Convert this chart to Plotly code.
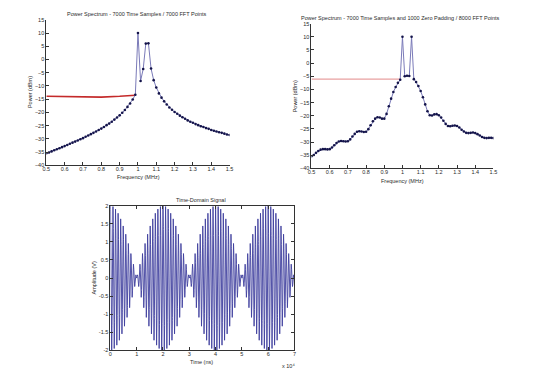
import numpy as np
import plotly.graph_objects as go

# ---- Spectrum 1: 7000-point FFT (bin spacing 1/70 MHz), 0.5-1.5 MHz ----
freq1_bins = list(range(35, 106))          # bin indices shown
freq1_step_mhz = 1 / 70
power1_dbm = [-35.4, -35.1, -34.7, -34.3, -33.9, -33.5, -33.1, -32.7, -32.3, -31.8,
              -31.4, -31.0, -30.6, -30.1, -29.7, -29.2, -28.7, -28.2, -27.7, -27.2,
              -26.6, -26.1, -25.5, -24.8, -24.2, -23.5, -22.7, -21.9, -21.1, -20.1,
              -19.1, -17.9, -16.6, -15.1, -13.3, 10.0, -8.1, -3.6, 6.0, 6.1,
              -3.4, -7.8, -10.6, -12.8, -14.4, -15.8, -17.0, -18.1, -19.0, -19.8,
              -20.5, -21.2, -21.8, -22.4, -23.0, -23.5, -23.9, -24.4, -24.8, -25.2,
              -25.5, -25.9, -26.2, -26.6, -26.9, -27.2, -27.5, -27.7, -28.0, -28.3, -28.5]
red1_freq = [0.5, 0.6, 0.7, 0.8, 0.9, 0.986]
red1_dbm = [-13.9, -14.0, -14.2, -14.2, -13.9, -13.5]

# ---- Spectrum 2: 8000-point FFT (bin spacing 0.0125 MHz), 0.5-1.5 MHz ----
freq2_bins = list(range(40, 121))
freq2_step_mhz = 0.0125
power2_dbm = [-35.4, -34.9, -34.1, -33.4, -32.9, -32.7, -32.7, -32.8, -32.7, -32.1,
              -31.2, -30.4, -29.8, -29.6, -29.7, -29.8, -29.7, -29.0, -27.9, -26.9,
              -26.1, -25.9, -26.0, -26.2, -26.1, -25.1, -23.6, -22.1, -21.1, -20.6,
              -20.7, -21.1, -21.1, -19.3, -16.4, -13.5, -11.0, -9.1, -7.5, -6.3,
              10.0, -5.0, -4.8, -4.9, 10.0, -6.1, -7.2, -8.7, -10.6, -13.0,
              -15.7, -18.3, -19.8, -19.9, -19.5, -19.4, -19.8, -20.7, -21.9, -23.1,
              -23.9, -24.0, -23.8, -23.7, -23.9, -24.5, -25.3, -26.0, -26.5, -26.6,
              -26.5, -26.4, -26.6, -27.0, -27.5, -28.1, -28.4, -28.5, -28.4, -28.4, -28.5]
red2_freq = [0.5, 0.9875]
red2_dbm = [-6.1, -6.1]

tone_freqs_mhz = [1.0, 1.05]
tone_amps_v = [1.0, 1.0]
n_samples = 7000
sample_period_ns = 10

# tick labels
freq_ticks = [0.5, 0.6, 0.7, 0.8, 0.9, 1.0, 1.1, 1.2, 1.3, 1.4, 1.5]
freq_ticklabels = ["0.5", "0.6", "0.7", "0.8", "0.9", "1", "1.1", "1.2", "1.3", "1.4", "1.5"]
power_ticks = [-40, -35, -30, -25, -20, -15, -10, -5, 0, 5, 10, 15]
time_ticks = [0, 10000, 20000, 30000, 40000, 50000, 60000, 70000]
time_ticklabels = ["0", "1", "2", "3", "4", "5", "6", "7"]
amp_ticks = [-2, -1.5, -1, -0.5, 0, 0.5, 1, 1.5, 2]
amp_ticklabels = ["-2", "-1.5", "-1", "-0.5", "0", "0.5", "1", "1.5", "2"]

f1 = np.array(freq1_bins) * freq1_step_mhz
f2 = np.array(freq2_bins) * freq2_step_mhz
t_ns = np.arange(n_samples) * sample_period_ns
sig = sum(a * np.cos(2 * np.pi * f * 1e-3 * t_ns) for f, a in zip(tone_freqs_mhz, tone_amps_v))

LINE = '#7a7ab8'
DOT = '#14144a'
FONT = 'Liberation Sans, Arial, sans-serif'
TXT = '#2a2a2a'
FS = 5.5

fig = go.Figure()
fig.add_trace(go.Scatter(x=red1_freq, y=red1_dbm, xaxis='x', yaxis='y', mode='lines',
                         line=dict(color='#c42a2a', width=1.6), hoverinfo='skip'))
fig.add_trace(go.Scatter(x=f1, y=power1_dbm, xaxis='x', yaxis='y', mode='lines+markers',
                         line=dict(color=LINE, width=1), marker=dict(color=DOT, size=2.6)))
fig.add_trace(go.Scatter(x=red2_freq, y=red2_dbm, xaxis='x2', yaxis='y2', mode='lines',
                         line=dict(color='#e8a0a0', width=1.2), hoverinfo='skip'))
fig.add_trace(go.Scatter(x=f2, y=power2_dbm, xaxis='x2', yaxis='y2', mode='lines+markers',
                         line=dict(color=LINE, width=1), marker=dict(color=DOT, size=2.6)))
fig.add_trace(go.Scatter(x=t_ns, y=sig, xaxis='x3', yaxis='y3', mode='lines',
                         line=dict(color='#40409e', width=0.9)))

ax_common = dict(showgrid=False, zeroline=False, showline=True, linecolor='#333333', linewidth=1,
                 ticks='inside', ticklen=3, tickcolor='#333333',
                 tickfont=dict(family=FONT, size=FS, color=TXT))
xa = dict(ticklabelstandoff=-2, **ax_common)
ya = dict(ticklabelstandoff=0, **ax_common)

fig.update_layout(
    width=540, height=379, margin=dict(l=0, r=0, t=0, b=0), showlegend=False,
    plot_bgcolor='white', paper_bgcolor='white',
    font=dict(family=FONT, size=FS, color=TXT),
    xaxis=dict(domain=[0.0796, 0.424], range=[0.5, 1.5], anchor='y',
               tickvals=freq_ticks, ticktext=freq_ticklabels, **xa),
    yaxis=dict(domain=[0.5646, 0.955], range=[-40, 15], anchor='x',
               tickvals=power_ticks, **ya),
    xaxis2=dict(domain=[0.578, 0.92], range=[0.5, 1.5], anchor='y2',
                tickvals=freq_ticks, ticktext=freq_ticklabels, **xa),
    yaxis2=dict(domain=[0.5567, 0.9446], range=[-40, 15], anchor='x2',
                tickvals=power_ticks, **ya),
    xaxis3=dict(domain=[0.2, 0.546], range=[0, 70000], anchor='y3', mirror='ticks',
                tickvals=time_ticks, ticktext=time_ticklabels, **xa),
    yaxis3=dict(domain=[0.0686, 0.4565], range=[-2, 2], anchor='x3', mirror='ticks',
                tickvals=amp_ticks, ticktext=amp_ticklabels, **ya),
)

ann = [
    ("Power Spectrum - 7000 Time Samples / 7000 FFT Points", 0.250, 0.971, 0),
    ("Frequency (MHz)", 0.252, 0.534, 0),
    ("Power (dBm)", 0.048, 0.76, -90),
    ("Power Spectrum - 7000 Time Samples and 1000 Zero Padding / 8000 FFT Points", 0.745, 0.960, 0),
    ("Frequency (MHz)", 0.749, 0.523, 0),
    ("Power (dBm)", 0.546, 0.751, -90),
    ("Time-Domain Signal", 0.371, 0.472, 0),
    ("Time (ns)", 0.371, 0.037, 0),
    ("Amplitude (V)", 0.170, 0.2625, -90),
    ("x 10\u2074", 0.534, 0.027, 0),
]
for text, x, y, ang in ann:
    fig.add_annotation(text=text, x=x, y=y, xref='paper', yref='paper', showarrow=False,
                       textangle=ang, xanchor='center', yanchor='middle',
                       font=dict(family=FONT, size=FS, color=TXT))

fig.write_html("out.html", config={'displayModeBar': False},
               post_script="document.body.style.margin='0';")
